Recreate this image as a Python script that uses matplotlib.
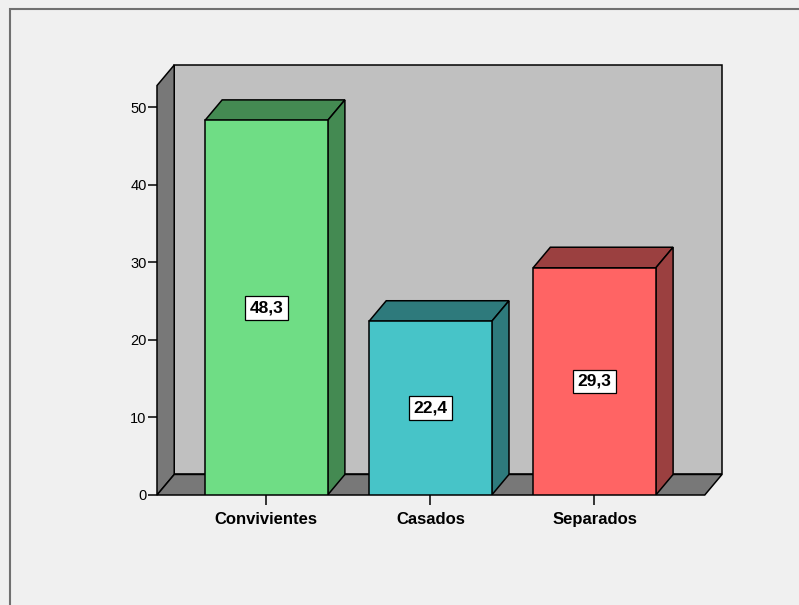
import numpy as np
import matplotlib.pyplot as plt
from matplotlib.patches import Polygon, Rectangle

# data
categories = ['Convivientes', 'Casados', 'Separados']
values = [48.3, 22.4, 29.3]
value_labels = ['48,3', '22,4', '29,3']
yticks = [0, 10, 20, 30, 40, 50]

front_colors = ['#6fdd85', '#47c4c8', '#ff6464']
dark_colors = ['#448a52', '#2e7a7c', '#9b4040']

plt.rcParams['font.family'] = ['Liberation Sans', 'DejaVu Sans']

bar_w = 0.748
dx, dy = 0.105, 2.65        # depth offset of the fake 3d
x0, x1 = -0.666, 2.672      # floor front edge
wall_top = 52.8

fig = plt.figure(figsize=(7.99, 6.05), dpi=100, facecolor='#f0f0f0')
ax = fig.add_axes([157/799, 110/605, 565/799, 430/605])
ax.set_facecolor('none')
ax.set_xlim(x0, x1 + dx)
ax.set_ylim(0, wall_top + dy)
for s in ax.spines.values():
    s.set_visible(False)

ec = 'black'
lw = 1.1
# back wall
ax.add_patch(Rectangle((x0 + dx, dy), x1 - x0, wall_top, facecolor='#c0c0c0',
                       edgecolor=ec, lw=lw, clip_on=False, zorder=1))
# left wall
ax.add_patch(Polygon([(x0, 0), (x0 + dx, dy), (x0 + dx, wall_top + dy), (x0, wall_top)],
                     facecolor='#787878', edgecolor=ec, lw=lw, clip_on=False, zorder=2))
# floor
ax.add_patch(Polygon([(x0, 0), (x1, 0), (x1 + dx, dy), (x0 + dx, dy)],
                     facecolor='#787878', edgecolor=ec, lw=lw, clip_on=False, zorder=2))

xs = np.arange(len(categories))
bars = ax.bar(xs, values, bar_w, color=front_colors, edgecolor=ec, lw=lw, zorder=4)
for i, b in enumerate(bars):
    l = b.get_x()
    r = l + b.get_width()
    h = b.get_height()
    ax.add_patch(Polygon([(l, h), (l + dx, h + dy), (r + dx, h + dy), (r, h)],
                         facecolor=dark_colors[i], edgecolor=ec, lw=lw, zorder=3))
    ax.add_patch(Polygon([(r, 0), (r + dx, dy), (r + dx, h + dy), (r, h)],
                         facecolor=dark_colors[i], edgecolor=ec, lw=lw, zorder=3))
    ax.text(xs[i], h / 2, value_labels[i], ha='center', va='center', fontsize=12.5,
            fontweight='bold', zorder=6,
            bbox=dict(boxstyle='square,pad=0.25', facecolor='white', edgecolor='black', lw=0.9))

ax.set_yticks(yticks)
ax.set_xticks(xs)
ax.set_xticklabels(categories, fontsize=12, fontweight='bold')
ax.tick_params(axis='y', length=6.5, width=1.1, labelsize=10.5, pad=1)
ax.tick_params(axis='x', length=7, width=1.1, pad=5)

# outer frame of the picture
fig.patches.append(Rectangle((9.5/799, -0.1), 1.2, 1.1 - 9.5/605, transform=fig.transFigure,
                             facecolor='none', edgecolor='#707070', lw=1.5))

plt.savefig('out.png', dpi=100, facecolor=fig.get_facecolor())
